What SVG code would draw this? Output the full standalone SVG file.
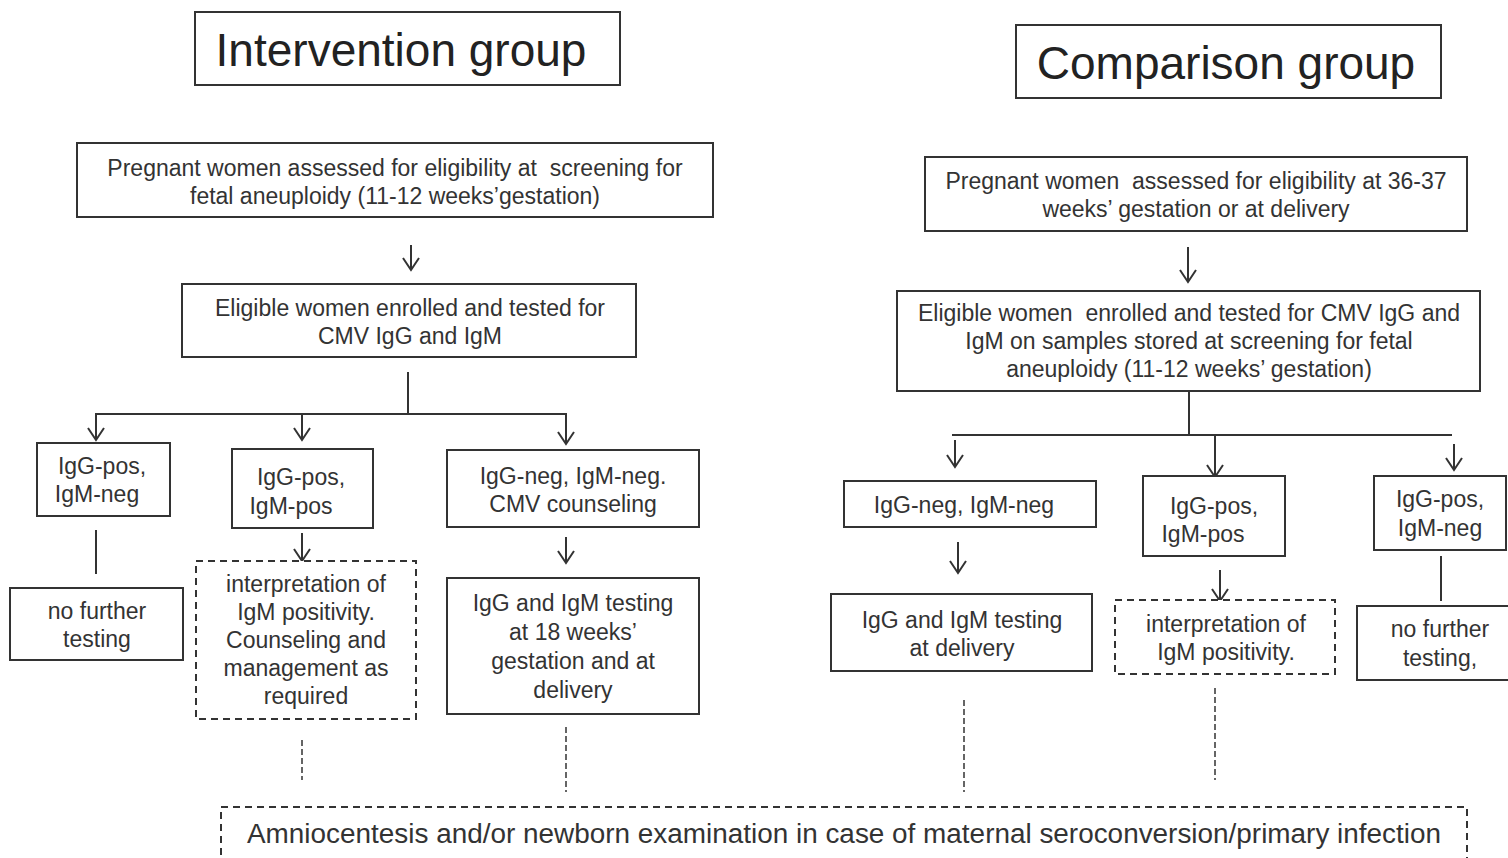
<svg xmlns="http://www.w3.org/2000/svg" width="1508" height="858" viewBox="0 0 1508 858">
<style>
.b{fill:#fff;stroke:#333;stroke-width:2}
.d{fill:#fff;stroke:#333;stroke-width:2;stroke-dasharray:7 5}
.t{font-family:"Liberation Sans",Arial,sans-serif;font-size:23px;fill:#333;text-anchor:middle;white-space:pre}
.h{font-family:"Liberation Sans",Arial,sans-serif;font-size:46px;fill:#222;text-anchor:middle}
.c{stroke:#333;stroke-width:2;fill:none}
.a{stroke:#333;stroke-width:2;fill:none;marker-end:url(#ar)}
.dl{stroke:#333;stroke-width:1.5;fill:none;stroke-dasharray:6 3}
</style>
<defs>
<marker id="ar" viewBox="0 0 20 20" refX="18" refY="10" markerWidth="20" markerHeight="20" markerUnits="userSpaceOnUse" orient="auto">
<path d="M6,2 L18,10 L6,18" fill="none" stroke="#333" stroke-width="2"/>
</marker>
</defs>
<rect width="1508" height="858" fill="#fff"/>
<g id="connectors">
<line class="a" x1="411" y1="245" x2="411" y2="270"/>
<line class="c" x1="408" y1="372" x2="408" y2="414"/>
<polyline class="c" points="96,422 96,414 566,414 566,420"/>
<line class="a" x1="96" y1="414" x2="96" y2="440"/>
<line class="a" x1="302" y1="414" x2="302" y2="440"/>
<line class="a" x1="566" y1="414" x2="566" y2="444"/>
<line class="c" x1="96" y1="530" x2="96" y2="574"/>
<line class="a" x1="302" y1="533" x2="302" y2="561"/>
<line class="a" x1="566" y1="537" x2="566" y2="563"/>
<line class="dl" x1="302" y1="740" x2="302" y2="780"/>
<line class="dl" x1="566" y1="727" x2="566" y2="792"/>
<line class="a" x1="1188" y1="247" x2="1188" y2="282"/>
<line class="c" x1="1189" y1="391" x2="1189" y2="435"/>
<line class="c" x1="952" y1="435" x2="1452" y2="435"/>
<line class="a" x1="955" y1="440" x2="955" y2="467"/>
<line class="a" x1="1215" y1="435" x2="1215" y2="477"/>
<line class="a" x1="1454" y1="444" x2="1454" y2="470"/>
<line class="a" x1="958" y1="542" x2="958" y2="573"/>
<line class="a" x1="1220" y1="570" x2="1220" y2="601"/>
<line class="c" x1="1441" y1="556" x2="1441" y2="601"/>
<line class="dl" x1="964" y1="700" x2="964" y2="792"/>
<line class="dl" x1="1215" y1="688" x2="1215" y2="780"/>
</g>
<g id="title-intervention">
<rect class="b" x="195" y="12" width="425" height="73"/>
<text class="h" x="401" y="66">Intervention group</text>
</g>
<g id="title-comparison">
<rect class="b" x="1016" y="25" width="425" height="73"/>
<text class="h" x="1226" y="79">Comparison group</text>
</g>
<g id="a1">
<rect class="b" x="77" y="143" width="636" height="74"/>
<text class="t" x="395" y="176" xml:space="preserve">Pregnant women assessed for eligibility at  screening for</text>
<text class="t" x="395" y="204">fetal aneuploidy (11-12 weeks’gestation)</text>
</g>
<g id="a2">
<rect class="b" x="182" y="284" width="454" height="73"/>
<text class="t" x="410" y="316">Eligible women enrolled and tested for</text>
<text class="t" x="410" y="344">CMV IgG and IgM</text>
</g>
<g id="b1">
<rect class="b" x="37" y="443" width="133" height="73"/>
<text class="t" x="102" y="474">IgG-pos,</text>
<text class="t" x="97" y="502">IgM-neg</text>
</g>
<g id="b1b">
<rect class="b" x="10" y="588" width="173" height="72"/>
<text class="t" x="97" y="619">no further</text>
<text class="t" x="97" y="647">testing</text>
</g>
<g id="b2">
<rect class="b" x="232" y="449" width="141" height="79"/>
<text class="t" x="301" y="485">IgG-pos,</text>
<text class="t" x="291" y="514">IgM-pos</text>
</g>
<g id="b2b">
<rect class="d" x="196" y="561" width="220" height="158"/>
<text class="t" x="306" y="592">interpretation of</text>
<text class="t" x="306" y="620">IgM positivity.</text>
<text class="t" x="306" y="648">Counseling and</text>
<text class="t" x="306" y="676">management as</text>
<text class="t" x="306" y="704">required</text>
</g>
<g id="b3">
<rect class="b" x="447" y="450" width="252" height="77"/>
<text class="t" x="573" y="484">IgG-neg, IgM-neg.</text>
<text class="t" x="573" y="512">CMV counseling</text>
</g>
<g id="b3b">
<rect class="b" x="447" y="578" width="252" height="136"/>
<text class="t" x="573" y="611">IgG and IgM testing</text>
<text class="t" x="573" y="640">at 18 weeks’</text>
<text class="t" x="573" y="669">gestation and at</text>
<text class="t" x="573" y="698">delivery</text>
</g>
<g id="c1">
<rect class="b" x="925" y="157" width="542" height="74"/>
<text class="t" x="1196" y="189" xml:space="preserve">Pregnant women  assessed for eligibility at 36-37</text>
<text class="t" x="1196" y="217">weeks’ gestation or at delivery</text>
</g>
<g id="c2">
<rect class="b" x="897" y="291" width="583" height="100"/>
<text class="t" x="1189" y="321" xml:space="preserve">Eligible women  enrolled and tested for CMV IgG and</text>
<text class="t" x="1189" y="349">IgM on samples stored at screening for fetal</text>
<text class="t" x="1189" y="377">aneuploidy (11-12 weeks’ gestation)</text>
</g>
<g id="d1">
<rect class="b" x="844" y="481" width="252" height="46"/>
<text class="t" x="964" y="513">IgG-neg, IgM-neg</text>
</g>
<g id="d1b">
<rect class="b" x="831" y="594" width="261" height="77"/>
<text class="t" x="962" y="628">IgG and IgM testing</text>
<text class="t" x="962" y="656">at delivery</text>
</g>
<g id="d2">
<rect class="b" x="1143" y="476" width="142" height="80"/>
<text class="t" x="1214" y="514">IgG-pos,</text>
<text class="t" x="1203" y="542">IgM-pos</text>
</g>
<g id="d2b">
<rect class="d" x="1115" y="600" width="220" height="74"/>
<text class="t" x="1226" y="632">interpretation of</text>
<text class="t" x="1226" y="660">IgM positivity.</text>
</g>
<g id="d3">
<rect class="b" x="1374" y="476" width="132" height="74"/>
<text class="t" x="1440" y="507">IgG-pos,</text>
<text class="t" x="1440" y="536">IgM-neg</text>
</g>
<g id="d3b">
<rect class="b" x="1357" y="606" width="160" height="74"/>
<text class="t" x="1440" y="637">no further</text>
<text class="t" x="1440" y="666">testing,</text>
</g>
<g id="bottom">
<rect class="d" x="221" y="807" width="1246" height="80"/>
<text class="t" x="844" y="843" style="font-size:27px" textLength="1194" lengthAdjust="spacingAndGlyphs">Amniocentesis and/or newborn examination in case of maternal seroconversion/primary infection</text>
</g>
</svg>
